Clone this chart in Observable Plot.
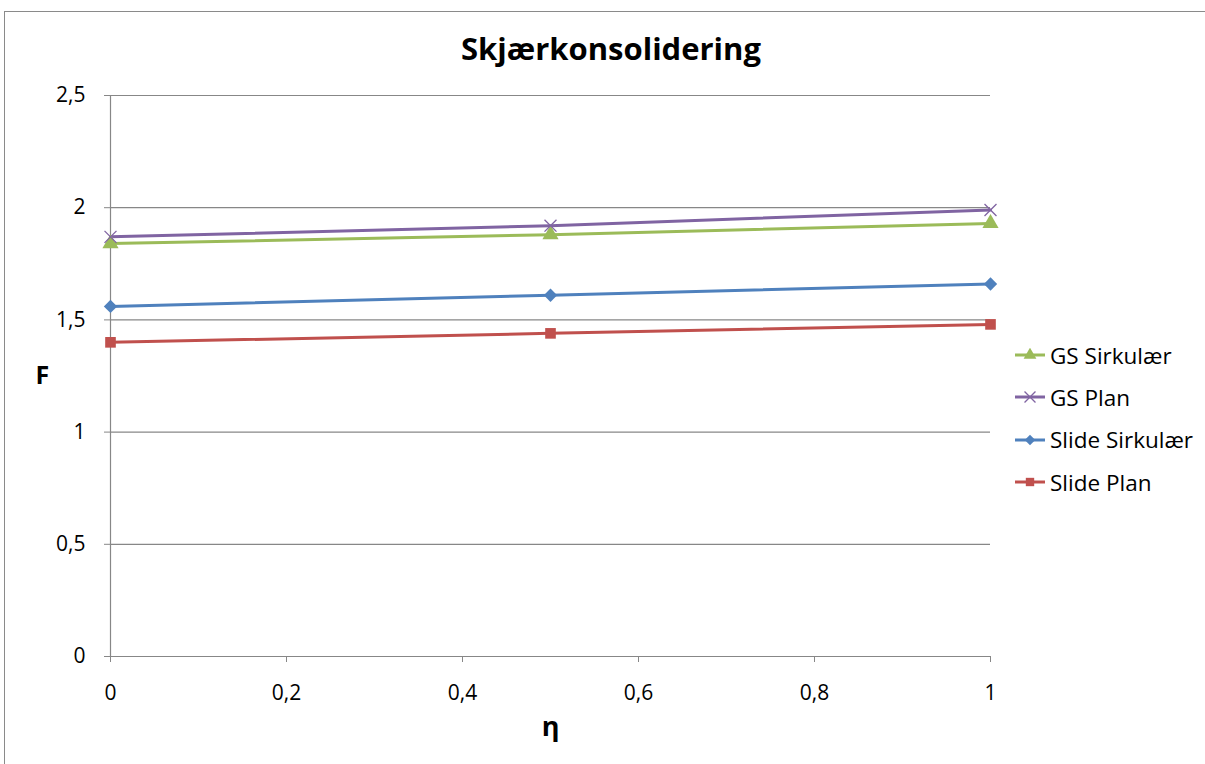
<!DOCTYPE html>
<html>
<head>
<meta charset="utf-8">
<script src="https://cdn.jsdelivr.net/npm/d3@7"></script>
<script src="https://cdn.jsdelivr.net/npm/@observablehq/plot@0.6"></script>
<style>
  html, body { margin: 0; padding: 0; background: #fff; }
  #wrap { position: relative; width: 1205px; height: 764px; overflow: hidden; font-family: "Open Sans", sans-serif; }
  #frame { position: absolute; left: 4px; top: 11px; width: 1300px; height: 900px; border-top: 1.5px solid #8a8a8a; border-left: 1.5px solid #8a8a8a; box-sizing: border-box; }
  #title { position: absolute; left: 0; top: 0; width: 1222px; height: 80px; line-height: 96px; text-align: center; font-weight: 700; font-size: 31px; color: #000; }
  #chart { position: absolute; left: 0; top: 80px; }
  #legend { position: absolute; left: 1013px; top: 334px; }
  .item { display: flex; align-items: center; height: 42.3px; font-size: 22.5px; color: #000; }
  .item svg { margin-right: 3px; }
</style>
</head>
<body>
<div id="wrap">
  <div id="frame"></div>
  <div id="title"></div>
  <div id="chart"></div>
  <div id="legend"></div>
</div>
<script>
const chartTitle = "Skjærkonsolidering";
const eta = [0, 0.5, 1];
const seriesNames = ["GS Sirkulær", "GS Plan", "Slide Sirkulær", "Slide Plan"];
const gsSirkulaer = [1.84, 1.88, 1.93];
const gsPlan = [1.87, 1.92, 1.99];
const slideSirkulaer = [1.56, 1.61, 1.66];
const slidePlan = [1.40, 1.44, 1.48];
const seriesColors = ["#9BBB59", "#8064A2", "#4F81BD", "#C0504D"];
const seriesSymbols = ["triangle", "times", "diamond2", "square"];
const yTicks = [0, 0.5, 1, 1.5, 2, 2.5];
const yTickLabels = ["0", "0,5", "1", "1,5", "2", "2,5"];
const xTicks = [0, 0.2, 0.4, 0.6, 0.8, 1];
const xTickLabels = ["0", "0,2", "0,4", "0,6", "0,8", "1"];
const xLabel = "η";
const yLabel = "F";

const seriesValues = [gsSirkulaer, gsPlan, slideSirkulaer, slidePlan];
const rows = [];
seriesNames.forEach((s, i) => eta.forEach((e, j) => rows.push({series: s, eta: e, F: seriesValues[i][j]})));

document.getElementById("title").textContent = chartTitle;

const gray = "#878787";
const plot = Plot.plot({
  width: 1205,
  height: 684,
  marginTop: 15,
  marginBottom: 108,
  marginLeft: 110,
  marginRight: 215,
  style: {fontFamily: "Open Sans, sans-serif", fontSize: "21px", color: "#000", background: "transparent"},
  x: {domain: [0, 1]},
  y: {domain: [0, 2.5]},
  color: {domain: seriesNames, range: seriesColors},
  symbol: {domain: seriesNames, range: seriesSymbols},
  marks: [
    Plot.gridY(yTicks, {stroke: gray, strokeOpacity: 1, strokeWidth: 1.2}),
    Plot.ruleX([0], {stroke: gray, strokeWidth: 1.2}),
    Plot.axisY(yTicks, {tickFormat: (d, i) => yTickLabels[i], tickSize: 6, tickPadding: 19, stroke: gray, label: null, fontSize: 21}),
    Plot.axisX(xTicks, {tickFormat: (d, i) => xTickLabels[i], tickSize: 6, tickPadding: 23, stroke: gray, label: null, fontSize: 21}),
    Plot.line(rows, {x: "eta", y: "F", z: "series", stroke: "series", strokeWidth: 3}),
    Plot.dot(rows.filter(d => d.series !== "GS Plan"), {x: "eta", y: "F", fill: "series", symbol: "series", r: 6, stroke: "none"}),
    Plot.dot(rows.filter(d => d.series === "GS Plan"), {x: "eta", y: "F", stroke: "series", symbol: "series", r: 5.5, strokeWidth: 1.3}),
    Plot.text([yLabel], {frameAnchor: "left", dx: -75, fontWeight: "bold", fontSize: 25}),
    Plot.text([xLabel], {frameAnchor: "bottom", dy: 79, fontWeight: "bold", fontSize: 27})
  ]
});
document.getElementById("chart").appendChild(plot);

// Legend
const legend = document.getElementById("legend");
const sym = {triangle: d3.symbolTriangle, times: d3.symbolTimes, diamond2: d3.symbolDiamond2, square: d3.symbolSquare};
seriesNames.forEach((name, i) => {
  const item = document.createElement("div");
  item.className = "item";
  const s = d3.create("svg").attr("width", 34).attr("height", 14);
  s.append("line").attr("x1", 2).attr("x2", 32).attr("y1", 7).attr("y2", 7).attr("stroke", seriesColors[i]).attr("stroke-width", 3);
  const path = d3.symbol(sym[seriesSymbols[i]], seriesSymbols[i] === "times" ? 80 : 70)();
  const p = s.append("path").attr("d", path).attr("transform", "translate(17,7)");
  if (seriesSymbols[i] === "times") p.attr("fill", "none").attr("stroke", seriesColors[i]).attr("stroke-width", 1.3);
  else p.attr("fill", seriesColors[i]);
  item.appendChild(s.node());
  const t = document.createElement("span");
  t.textContent = name;
  item.appendChild(t);
  legend.appendChild(item);
});
</script>
</body>
</html>
